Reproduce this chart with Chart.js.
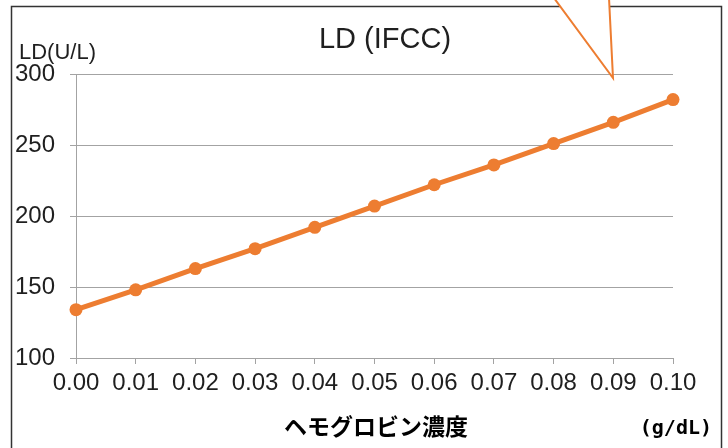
<!DOCTYPE html>
<html>
<head>
<meta charset="utf-8">
<script src="https://cdn.jsdelivr.net/npm/chart.js@4/dist/chart.umd.min.js"></script>
<style>
  html, body { margin: 0; padding: 0; background: #ffffff; }
  #wrap { width: 728px; height: 448px; }
</style>
</head>
<body>
<div id="wrap"><canvas id="c" width="728" height="448"></canvas></div>
<script>
// Hemoglobin concentration (g/dL) and measured LD (U/L)
const concentrations = ['0.00', '0.01', '0.02', '0.03', '0.04', '0.05', '0.06', '0.07', '0.08', '0.09', '0.10'];
const ldValues = [134, 148, 163, 177, 192, 207, 222, 236, 251, 266, 282];
const yTicks = { min: 100, max: 300, step: 50 };

const chartTitle = 'LD (IFCC)';
const yUnitLabel = 'LD(U/L)';
const xAxisLabel = 'ヘモグロビン濃度';
const xUnitLabel = '(g/dL)';

const ORANGE = '#ED7D31';
const GRID = '#a3a3a3';
const TEXT = '#1f1f1f';

// Frame, headings and the callout pointer
const decorations = {
  id: 'decorations',
  afterDraw(chart) {
    const ctx = chart.ctx;
    ctx.save();

    // outer frame
    ctx.strokeStyle = '#333333';
    ctx.lineWidth = 1.5;
    ctx.strokeRect(11.5, 6.5, 710, 470);

    // callout pointer
    ctx.fillStyle = '#ffffff';
    ctx.beginPath();
    ctx.moveTo(554, -2);
    ctx.lineTo(613, 78);
    ctx.lineTo(609, -2);
    ctx.closePath();
    ctx.fill();
    ctx.strokeStyle = ORANGE;
    ctx.lineWidth = 2;
    ctx.beginPath();
    ctx.moveTo(554, -2);
    ctx.lineTo(613, 78);
    ctx.lineTo(609, -2);
    ctx.stroke();

    ctx.fillStyle = TEXT;
    ctx.textBaseline = 'alphabetic';

    ctx.font = '29px "Liberation Sans", Arial, sans-serif';
    ctx.textAlign = 'center';
    ctx.fillText(chartTitle, 385, 48);

    ctx.font = '22px "Liberation Sans", Arial, sans-serif';
    ctx.textAlign = 'left';
    ctx.fillText(yUnitLabel, 19, 59);

    ctx.font = 'bold 23px "Noto Sans CJK JP", sans-serif';
    ctx.textAlign = 'center';
    ctx.fillStyle = '#000000';
    ctx.fillText(xAxisLabel, 376, 435);

    ctx.font = 'bold 20px "DejaVu Sans Mono", monospace';
    ctx.textAlign = 'right';
    ctx.fillText(xUnitLabel, 712, 434);

    ctx.restore();
  }
};

new Chart(document.getElementById('c'), {
  type: 'line',
  data: {
    labels: concentrations,
    datasets: [{
      data: ldValues,
      borderColor: ORANGE,
      backgroundColor: ORANGE,
      borderWidth: 5,
      pointRadius: 6.5,
      pointHoverRadius: 6.5,
      pointBackgroundColor: ORANGE,
      pointBorderWidth: 0,
      tension: 0,
      clip: false
    }]
  },
  options: {
    responsive: false,
    animation: false,
    devicePixelRatio: 1,
    layout: { padding: { top: 74, right: 55, left: 0, bottom: 0 } },
    plugins: {
      legend: { display: false },
      tooltip: { enabled: false },
      title: { display: false }
    },
    scales: {
      x: {
        type: 'category',
        offset: false,
        afterFit(scale) { scale.height = 90; },
        grid: {
          drawOnChartArea: false,
          drawTicks: true,
          tickLength: 6,
          color: GRID,
          lineWidth: 1
        },
        border: { display: true, color: GRID, width: 1 },
        ticks: {
          color: TEXT,
          padding: 5,
          maxRotation: 0,
          autoSkip: false,
          font: { family: '"Liberation Sans", Arial, sans-serif', size: 24 }
        }
      },
      y: {
        min: yTicks.min,
        max: yTicks.max,
        afterFit(scale) { scale.width = 76; },
        grid: {
          drawTicks: true,
          tickLength: 6,
          color: GRID,
          lineWidth: 1
        },
        border: { display: true, color: GRID, width: 1 },
        ticks: {
          stepSize: yTicks.step,
          color: TEXT,
          padding: 15,
          font: { family: '"Liberation Sans", Arial, sans-serif', size: 24 }
        }
      }
    }
  },
  plugins: [decorations]
});
</script>
</body>
</html>
